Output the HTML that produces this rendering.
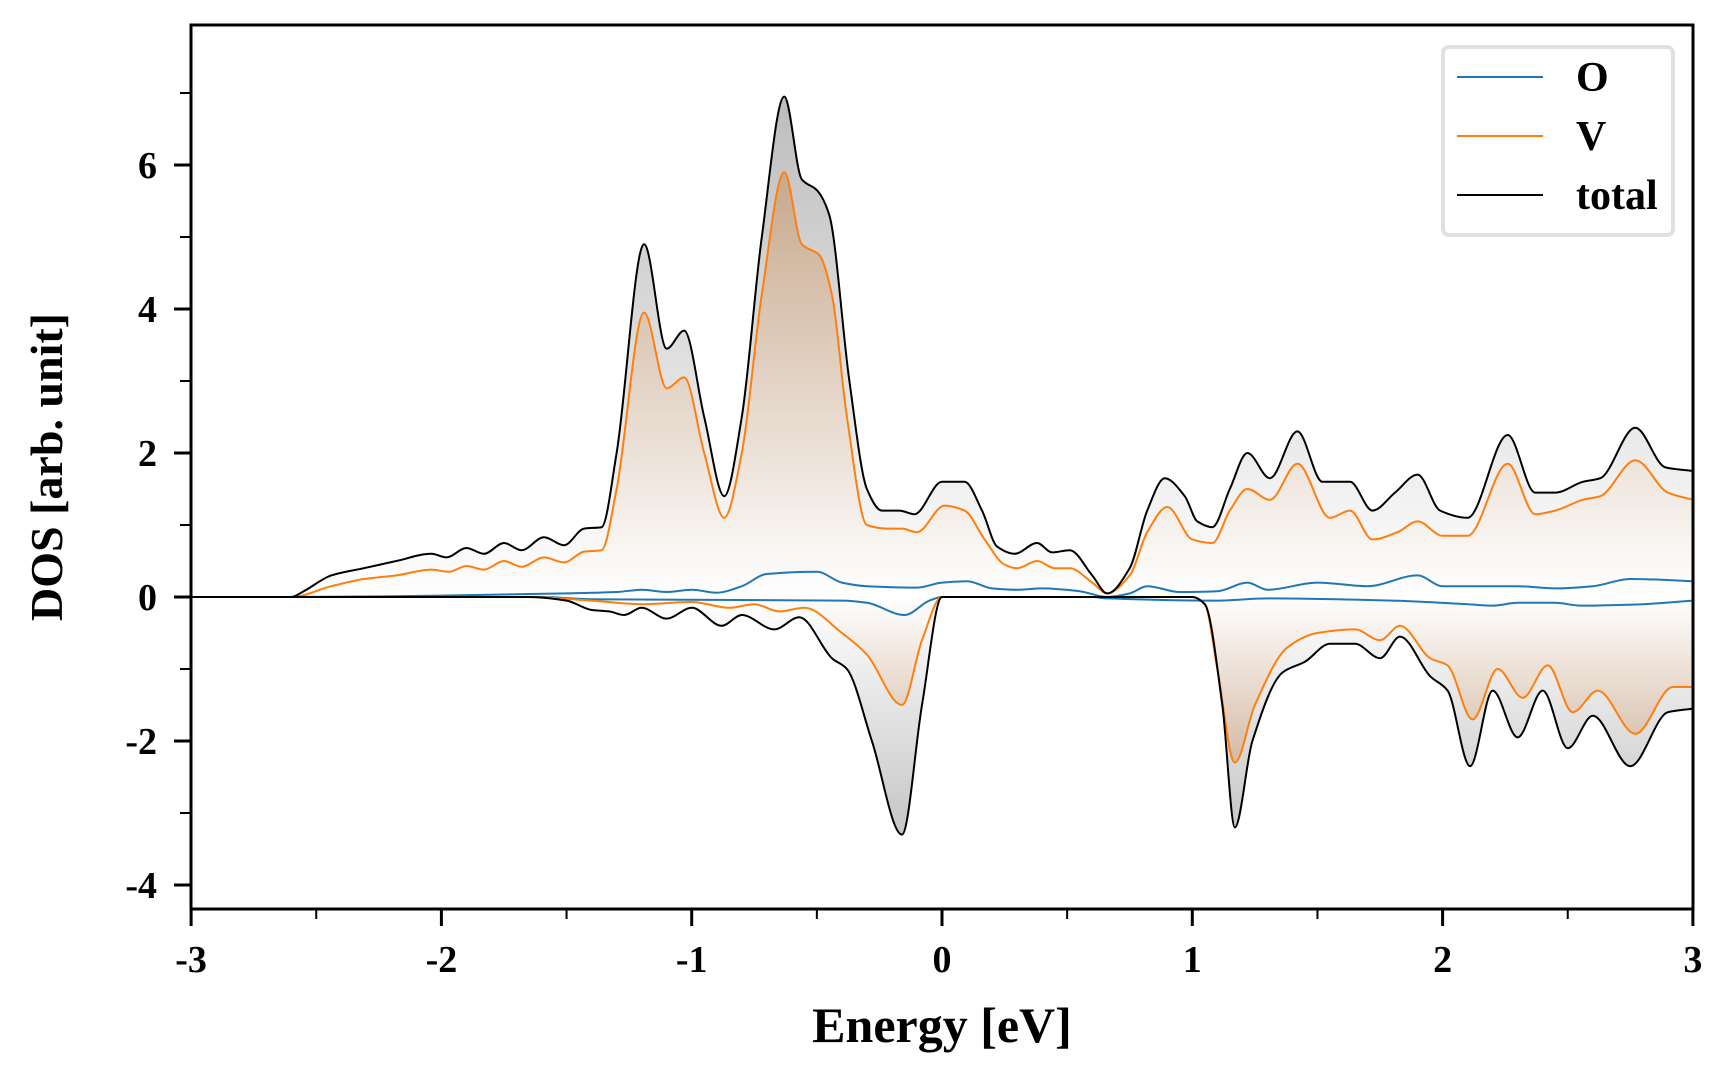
<!DOCTYPE html>
<html><head><meta charset="utf-8"><style>
html,body{margin:0;padding:0;background:#fff;width:1728px;height:1080px;overflow:hidden}
text{font-family:"Liberation Serif",serif;font-weight:bold;fill:#000}
</style></head><body>
<svg id="s" width="1728" height="1080" xmlns="http://www.w3.org/2000/svg">
<defs>
<linearGradient id="gu" gradientUnits="userSpaceOnUse" x1="0" y1="597" x2="0" y2="100"><stop offset="0" stop-color="#fff"/><stop offset="1" stop-color="#bdbdbd"/></linearGradient>
<linearGradient id="bu" gradientUnits="userSpaceOnUse" x1="0" y1="597" x2="0" y2="170"><stop offset="0" stop-color="#fff"/><stop offset="1" stop-color="#c7a88c"/></linearGradient>
<linearGradient id="gd" gradientUnits="userSpaceOnUse" x1="0" y1="597" x2="0" y2="840"><stop offset="0" stop-color="#fff"/><stop offset="1" stop-color="#c4c4c4"/></linearGradient>
<linearGradient id="bd" gradientUnits="userSpaceOnUse" x1="0" y1="597" x2="0" y2="770"><stop offset="0" stop-color="#fff"/><stop offset="1" stop-color="#d2b7a0"/></linearGradient>
<clipPath id="c"><rect x="191" y="25" width="1502" height="884"/></clipPath>
</defs>
<g id="plot" clip-path="url(#c)"></g>
<rect x="191" y="25" width="1502" height="884" fill="none" stroke="#000" stroke-width="3"/>
<g id="ticks" stroke="#000"></g>
<g id="labels" font-size="38"></g>
<text x="942" y="1042" font-size="50" text-anchor="middle">Energy [eV]</text>
<text transform="translate(62,467) rotate(-90)" font-size="46" text-anchor="middle">DOS [arb. unit]</text>
<rect x="1443" y="47" width="230" height="188" rx="6" fill="#fff" stroke="#e0e0e0" stroke-width="4"/>
<line x1="1457" y1="77" x2="1543" y2="77" stroke="#1f77b4" stroke-width="2"/>
<line x1="1457" y1="136" x2="1543" y2="136" stroke="#ff7f0e" stroke-width="2"/>
<line x1="1457" y1="195" x2="1543" y2="195" stroke="#000" stroke-width="2"/>
<text x="1576" y="91" font-size="42">O</text>
<text x="1576" y="150" font-size="42">V</text>
<text x="1576" y="209" font-size="42">total</text>
</svg>
<script>
var X=function(e){return 942+e*250.3},Y=function(v){return 597-v*72};
var TU=[[-3,0],[-2.6,0],[-2.55,0.08],[-2.44,0.3],[-2.31,0.4],[-2.18,0.5],[-2.04,0.6],[-1.98,0.55],[-1.9,0.68],[-1.83,0.6],[-1.75,0.75],[-1.68,0.65],[-1.59,0.83],[-1.51,0.72],[-1.43,0.95],[-1.36,0.97],[-1.3,2],[-1.19,4.9],[-1.1,3.45],[-1.03,3.7],[-0.95,2.5],[-0.87,1.4],[-0.8,2.5],[-0.72,5],[-0.63,6.95],[-0.56,5.8],[-0.5,5.65],[-0.45,5.3],[-0.37,3],[-0.3,1.5],[-0.24,1.2],[-0.17,1.2],[-0.11,1.15],[0.0,1.6],[0.09,1.6],[0.16,1.2],[0.22,0.7],[0.29,0.6],[0.38,0.75],[0.44,0.62],[0.51,0.65],[0.6,0.3],[0.66,0.05],[0.75,0.4],[0.82,1.2],[0.89,1.65],[0.97,1.4],[1.02,1.05],[1.08,0.97],[1.15,1.5],[1.22,2.0],[1.31,1.65],[1.42,2.3],[1.52,1.6],[1.63,1.6],[1.72,1.2],[1.81,1.45],[1.9,1.7],[1.99,1.2],[2.1,1.1],[2.26,2.25],[2.37,1.45],[2.45,1.45],[2.56,1.6],[2.63,1.65],[2.77,2.35],[2.89,1.8],[3,1.75]];
var VU=[[-3,0],[-2.6,0],[-2.44,0.15],[-2.31,0.25],[-2.18,0.3],[-2.04,0.38],[-1.97,0.35],[-1.9,0.43],[-1.83,0.38],[-1.75,0.5],[-1.68,0.42],[-1.59,0.55],[-1.51,0.48],[-1.43,0.63],[-1.36,0.65],[-1.3,1.5],[-1.19,3.95],[-1.1,2.9],[-1.03,3.05],[-0.95,2.0],[-0.87,1.1],[-0.8,2.0],[-0.72,4.2],[-0.63,5.9],[-0.56,4.9],[-0.49,4.75],[-0.44,4.2],[-0.38,2.5],[-0.3,1.0],[-0.22,0.95],[-0.16,0.95],[-0.1,0.9],[0.01,1.27],[0.09,1.2],[0.17,0.8],[0.25,0.45],[0.3,0.4],[0.38,0.5],[0.45,0.4],[0.51,0.4],[0.6,0.2],[0.66,0.05],[0.75,0.3],[0.82,0.9],[0.9,1.25],[1.0,0.8],[1.08,0.75],[1.15,1.2],[1.22,1.5],[1.31,1.35],[1.42,1.85],[1.55,1.1],[1.63,1.2],[1.72,0.8],[1.82,0.9],[1.9,1.05],[2.0,0.85],[2.1,0.85],[2.26,1.85],[2.37,1.15],[2.45,1.2],[2.56,1.35],[2.63,1.4],[2.77,1.9],[2.9,1.45],[3,1.35]];
var OU=[[-3,0],[-2.6,0],[-2.0,0.02],[-1.5,0.05],[-1.3,0.07],[-1.2,0.1],[-1.1,0.07],[-1.0,0.1],[-0.9,0.06],[-0.8,0.15],[-0.7,0.32],[-0.5,0.35],[-0.4,0.2],[-0.3,0.15],[-0.1,0.13],[0.0,0.2],[0.1,0.22],[0.2,0.12],[0.3,0.1],[0.4,0.12],[0.55,0.08],[0.66,0.0],[0.75,0.05],[0.82,0.15],[0.95,0.07],[1.1,0.08],[1.22,0.2],[1.3,0.1],[1.5,0.2],[1.7,0.15],[1.9,0.3],[2.0,0.15],[2.3,0.15],[2.45,0.12],[2.6,0.15],[2.75,0.25],[3,0.22]];
var TD=[[-3,0],[-1.65,0],[-1.5,-0.05],[-1.4,-0.18],[-1.33,-0.2],[-1.27,-0.25],[-1.2,-0.15],[-1.1,-0.3],[-1.0,-0.15],[-0.88,-0.4],[-0.8,-0.25],[-0.67,-0.45],[-0.57,-0.28],[-0.44,-0.85],[-0.38,-1.0],[-0.28,-2],[-0.16,-3.3],[-0.08,-1.5],[0.0,0],[1.0,0],[1.05,-0.1],[1.12,-1.5],[1.17,-3.2],[1.24,-2],[1.36,-1.05],[1.45,-0.9],[1.55,-0.65],[1.65,-0.65],[1.75,-0.85],[1.83,-0.55],[1.95,-1.1],[2.02,-1.3],[2.11,-2.35],[2.2,-1.3],[2.3,-1.95],[2.4,-1.3],[2.5,-2.1],[2.6,-1.65],[2.75,-2.35],[2.9,-1.6],[3,-1.55]];
var VD=[[-3,0],[-1.65,0],[-1.4,-0.05],[-1.2,-0.1],[-1.0,-0.07],[-0.85,-0.15],[-0.75,-0.1],[-0.65,-0.2],[-0.55,-0.15],[-0.4,-0.5],[-0.3,-0.8],[-0.16,-1.5],[-0.08,-0.6],[0.0,0],[1.0,0],[1.05,-0.1],[1.1,-1],[1.17,-2.3],[1.25,-1.5],[1.38,-0.7],[1.5,-0.5],[1.65,-0.45],[1.75,-0.6],[1.83,-0.4],[1.95,-0.85],[2.02,-0.95],[2.12,-1.7],[2.22,-1.0],[2.32,-1.4],[2.42,-0.95],[2.52,-1.6],[2.62,-1.3],[2.77,-1.9],[2.92,-1.25],[3,-1.25]];
var OD=[[-3,0],[-1.6,0],[-1.4,-0.03],[-0.4,-0.05],[-0.3,-0.08],[-0.15,-0.25],[-0.05,-0.05],[0.0,0],[0.6,0],[0.66,-0.02],[1.1,-0.05],[1.3,-0.02],[1.8,-0.05],[2.1,-0.1],[2.2,-0.12],[2.3,-0.08],[2.45,-0.08],[2.55,-0.12],[2.8,-0.1],[3,-0.05]];
function path(d){var p=d.map(function(a){return[X(a[0]),Y(a[1])]});var n=p.length;
var dl=[],m=[];for(var i=0;i<n-1;i++)dl.push((p[i+1][1]-p[i][1])/(p[i+1][0]-p[i][0]));
m[0]=dl[0];m[n-1]=dl[n-2];for(i=1;i<n-1;i++){if(dl[i-1]*dl[i]<=0)m[i]=0;else{var a=dl[i-1],b=dl[i];m[i]=3*(a+b)/( (2*b+a)/a*1 + (b+2*a)/b*1 )*1;m[i]=2/(1/a+1/b);}}
var s="M"+p[0][0].toFixed(1)+","+p[0][1].toFixed(1);
for(i=0;i<n-1;i++){var h=(p[i+1][0]-p[i][0])/3;s+="C"+(p[i][0]+h).toFixed(1)+","+(p[i][1]+m[i]*h).toFixed(1)+" "+(p[i+1][0]-h).toFixed(1)+","+(p[i+1][1]-m[i+1]*h).toFixed(1)+" "+p[i+1][0].toFixed(1)+","+p[i+1][1].toFixed(1);}return s;}
var NS="http://www.w3.org/2000/svg",g=document.getElementById("plot");
function add(d,fill,stroke,close){var e=document.createElementNS(NS,"path");var s=path(d);if(close)s+="L"+X(3)+","+Y(0)+"L"+X(-3)+","+Y(0)+"Z";e.setAttribute("d",s);e.setAttribute("fill",fill);if(stroke){e.setAttribute("stroke",stroke);e.setAttribute("stroke-width","2");}g.appendChild(e);}
add(TU,"url(#gu)",null,1);add(VU,"url(#bu)",null,1);add(TD,"url(#gd)",null,1);add(VD,"url(#bd)",null,1);
add(OU,"none","#1f77b4");add(OD,"none","#1f77b4");add(VU,"none","#ff7f0e");add(VD,"none","#ff7f0e");add(TU,"none","#000");add(TD,"none","#000");
var t=document.getElementById("ticks"),L=document.getElementById("labels");
function ln(x1,y1,x2,y2,w){var e=document.createElementNS(NS,"line");e.setAttribute("x1",x1);e.setAttribute("y1",y1);e.setAttribute("x2",x2);e.setAttribute("y2",y2);e.setAttribute("stroke-width",w);t.appendChild(e);}
function tx(x,y,s,a){var e=document.createElementNS(NS,"text");e.setAttribute("x",x);e.setAttribute("y",y);e.setAttribute("text-anchor",a);e.textContent=s;L.appendChild(e);}
for(var v=-4;v<=7;v++){var y=Y(v);if(v%2==0){ln(174,y,191,y,3);tx(157,y+13,String(v),"end");}else ln(180,y,191,y,2);}
for(var e=-3;e<=3.01;e+=0.5){var x=X(e);if(Math.abs(e-Math.round(e))<0.01){ln(x,909,x,926,3);tx(x,972,String(Math.round(e)),"middle");}else ln(x,909,x,919,2);}
</script>
</body></html>
